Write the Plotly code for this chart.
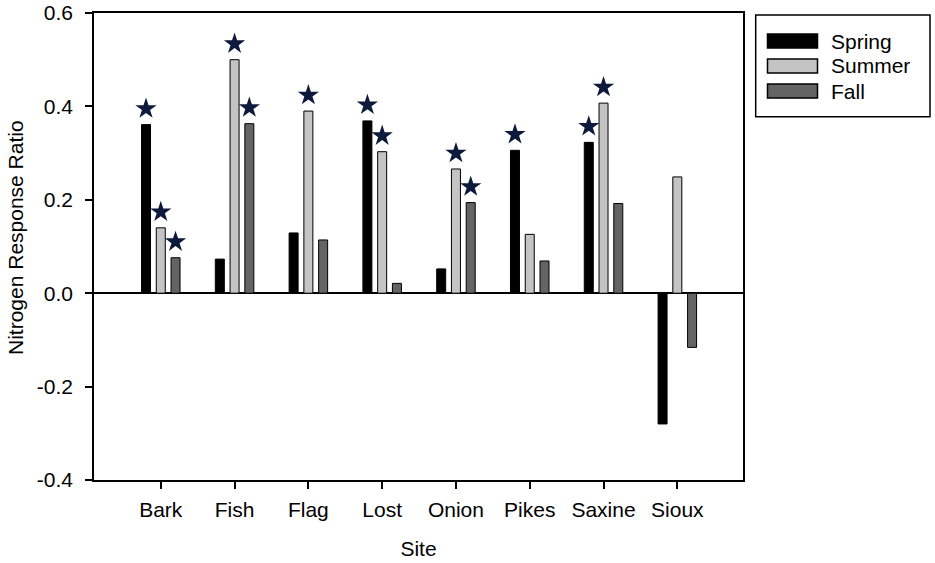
import plotly.graph_objects as go
import numpy as np

# data
sites = ["Bark", "Fish", "Flag", "Lost", "Onion", "Pikes", "Saxine", "Sioux"]
seasons = ["Spring", "Summer", "Fall"]
spring = [0.361, 0.073, 0.129, 0.369, 0.052, 0.306, 0.323, -0.280]
summer = [0.140, 0.500, 0.390, 0.303, 0.266, 0.126, 0.407, 0.249]
fall = [0.076, 0.363, 0.114, 0.021, 0.194, 0.069, 0.192, -0.116]
# significance stars (1 = star above the bar)
spring_sig = [1, 0, 0, 1, 0, 1, 1, 0]
summer_sig = [1, 1, 1, 1, 1, 0, 1, 0]
fall_sig = [1, 1, 0, 0, 1, 0, 0, 0]
y_ticks = [-0.4, -0.2, 0.0, 0.2, 0.4, 0.6]
y_ticktext = ["-0.4", "-0.2", "0.0", "0.2", "0.4", "0.6"]

values = [spring, summer, fall]
sigs = [spring_sig, summer_sig, fall_sig]
colors = ["#000000", "#c4c4c4", "#646464"]
offsets = [-0.2, 0.0, 0.2]
star_gap = 0.034
star_color = "#0d1a3c"

W, H = 935, 563
L, R, T, B = 94, 192, 13, 83
FONT = "Liberation Sans, Arial, sans-serif"
FS = 21


def px_x(px):
    return (px - L) / (W - L - R)


def px_y(py):
    return (H - B - py) / (H - T - B)


idx = np.arange(len(sites))
fig = go.Figure()

for name, vals, col, off in zip(seasons, values, colors, offsets):
    fig.add_trace(go.Bar(
        x=idx + off, y=vals, width=0.122, name=name,
        marker=dict(color=col, line=dict(color="#000000", width=1)),
        showlegend=False,
    ))

for vals, sig, off in zip(values, sigs, offsets):
    xs = [i + off for i in idx if sig[i]]
    ys = [vals[i] + star_gap for i in idx if sig[i]]
    fig.add_trace(go.Scatter(
        x=xs, y=ys, mode="markers", showlegend=False, hoverinfo="skip",
        marker=dict(symbol="star", size=16, color=star_color,
                    line=dict(width=0)),
    ))

# hand-built legend box, like the SigmaPlot one
shapes = [dict(type="rect", xref="paper", yref="paper",
               x0=px_x(755.7), x1=px_x(930), y0=px_y(116.7), y1=px_y(15),
               line=dict(color="#000000", width=1.5), fillcolor="white")]
annotations = []
for k, (name, col) in enumerate(zip(seasons, colors)):
    cy = 41 + 25 * k
    shapes.append(dict(type="rect", xref="paper", yref="paper",
                       x0=px_x(767.5), x1=px_x(817.5),
                       y0=px_y(cy + 7), y1=px_y(cy - 7),
                       line=dict(color="#000000", width=1.5), fillcolor=col))
    annotations.append(dict(text=name, xref="paper", yref="paper",
                            x=px_x(829), y=px_y(cy), xanchor="left",
                            yanchor="middle", showarrow=False,
                            font=dict(size=FS, color="#000000", family=FONT)))

# y title sits a little above the plot's middle in the original
annotations.append(dict(text="Nitrogen Response Ratio", textangle=-90,
                        xref="paper", yref="paper",
                        x=px_x(15), y=px_y(238), xanchor="center",
                        yanchor="middle", showarrow=False,
                        font=dict(size=FS, color="#000000", family=FONT)))

fig.update_layout(
    width=W, height=H,
    margin=dict(l=L, r=R, t=T, b=B),
    paper_bgcolor="white", plot_bgcolor="white",
    font=dict(family=FONT, size=FS, color="#000000"),
    shapes=shapes, annotations=annotations,
    showlegend=False,
)

fig.update_xaxes(
    range=[-0.905, 7.89], tickmode="array", tickvals=idx, ticktext=sites,
    showline=True, linecolor="#000000", linewidth=1.5, mirror=True,
    ticks="outside", ticklen=7, tickwidth=1.5, tickcolor="#000000",
    ticklabelstandoff=3, automargin=False,
    showgrid=False, zeroline=False,
    title=dict(text="Site", standoff=21, font=dict(size=FS)),
)
fig.update_yaxes(
    range=[-0.4, 0.6], tickmode="array", tickvals=y_ticks,
    ticktext=y_ticktext,
    showline=True, linecolor="#000000", linewidth=1.5, mirror=True,
    ticks="outside", ticklen=7, tickwidth=1.5, tickcolor="#000000",
    ticklabelstandoff=8, automargin=False,
    showgrid=False, zeroline=True, zerolinecolor="#000000", zerolinewidth=1.5,
)

# drop the default body margin so the figure sits at the window corner
fig.write_html("out.html", config={"displayModeBar": False},
               post_script="document.body.style.margin='0';")
